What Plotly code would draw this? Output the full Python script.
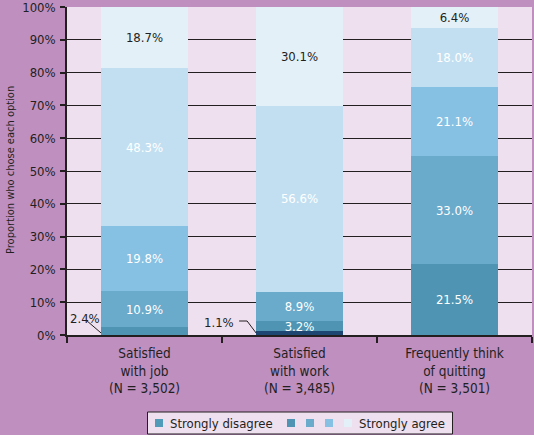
import plotly.graph_objects as go

# ---- data ----
categories = [
    "Satisfied<br>with job<br>(N = 3,502)",
    "Satisfied<br>with work<br>(N = 3,485)",
    "Frequently think<br>of quitting<br>(N = 3,501)",
]
legend_names = ["Strongly disagree", "", "", "", "Strongly agree"]
level1 = [2.4, 1.1, 21.5]
level2 = [10.9, 3.2, 33.0]
level3 = [19.8, 8.9, 21.1]
level4 = [48.3, 56.6, 18.0]
level5 = [18.7, 30.1, 6.4]
y_tick_values = [0, 10, 20, 30, 40, 50, 60, 70, 80, 90, 100]
y_tick_labels = [f"{v}%" for v in y_tick_values]
y_title = "Proportion who chose each option"

# ---- style ----
FONT = "Liberation Sans Narrow, Arial Narrow, DejaVu Sans Condensed, Roboto, sans-serif"
INK = "#231f20"
PAPER = "#bf8fc0"
PLOT_BG = "#eee0ee"
TEAL = "#4f95b3"
MID = "#6aaacb"
ML = "#86c0e2"
LIGHT = "#c2dff1"
LIGHTEST = "#e4f0f8"
NAVY = "#1e4672"
WHITE = "#ffffff"

levels = [level1, level2, level3, level4, level5]
seg_colors = [
    [TEAL, NAVY, TEAL],
    [MID, TEAL, MID],
    [ML, MID, ML],
    [LIGHT, LIGHT, LIGHT],
    [LIGHTEST, LIGHTEST, LIGHTEST],
]
text_colors = [[WHITE] * 3, [WHITE] * 3, [WHITE] * 3, [WHITE] * 3, [INK] * 3]
show_text = [
    [False, False, True],
    [True, True, True],
    [True, True, True],
    [True, True, True],
    [True, True, True],
]
legend_colors = ["#4f9bb8", TEAL, MID, ML, LIGHTEST]

BAR_W = 0.56

fig = go.Figure()
for vals, cols, tcols, shows in zip(levels, seg_colors, text_colors, show_text):
    fig.add_trace(go.Bar(
        x=categories,
        y=vals,
        width=BAR_W,
        marker=dict(color=cols, line=dict(width=0)),
        text=[f"{v:.1f}%" if s else "" for v, s in zip(vals, shows)],
        textposition="inside",
        insidetextanchor="middle",
        textangle=0,
        textfont=dict(family=FONT, size=13, color=tcols),
        showlegend=False,
        hoverinfo="skip",
    ))

# ---- layout geometry helpers (pixel -> paper) ----
L, R, T, B = 67, 2, 7, 100
W, H = 534, 435
PW, PH = W - L - R, H - T - B


def px(x):
    return (x - L) / PW


def py(y):
    return (H - B - y) / PH


shapes = []
annotations = []

# y-axis title
annotations.append(dict(
    x=px(10), y=py(170), xref="paper", yref="paper",
    xanchor="center", yanchor="middle", textangle=-90,
    text=y_title, showarrow=False,
    font=dict(family=FONT, size=11, color=INK),
))

# callout for job, lowest segment
shapes.append(dict(
    type="line", xref="x", yref="y", xsizemode="pixel", ysizemode="pixel",
    xanchor=0 - BAR_W / 2, yanchor=0, x0=-14, y0=14, x1=0, y1=2,
    line=dict(color=INK, width=1),
))
annotations.append(dict(
    x=0 - BAR_W / 2, y=0, xref="x", yref="y", xshift=-16, yshift=17,
    text=f"{level1[0]:.1f}%", showarrow=False,
    font=dict(family=FONT, size=13, color=INK),
))
# callout for work, lowest segment
shapes.append(dict(
    type="path", xref="x", yref="y", xsizemode="pixel", ysizemode="pixel",
    xanchor=1 - BAR_W / 2, yanchor=0, path="M-17,14 L-9,14 L0,2",
    line=dict(color=INK, width=1),
))
annotations.append(dict(
    x=1 - BAR_W / 2, y=0, xref="x", yref="y", xshift=-37, yshift=13,
    text=f"{level1[1]:.1f}%", showarrow=False,
    font=dict(family=FONT, size=13, color=INK),
))

# ---- manual legend ----
shapes.append(dict(
    type="rect", xref="paper", yref="paper",
    x0=px(147.5), x1=px(452.5), y0=py(434), y1=py(412),
    fillcolor=PLOT_BG, line=dict(color=INK, width=1), layer="above",
))
sq_x = [155, 287, 306, 325, 344]
for xs, c in zip(sq_x, legend_colors):
    shapes.append(dict(
        type="rect", xref="paper", yref="paper",
        x0=px(xs), x1=px(xs + 8), y0=py(427), y1=py(419),
        fillcolor=c, line=dict(width=0), layer="above",
    ))
legend_text_x = [168, None, None, None, 357]
for name, tx in zip(legend_names, legend_text_x):
    if name and tx is not None:
        annotations.append(dict(
            x=px(tx), y=py(423), xref="paper", yref="paper",
            xanchor="left", yanchor="middle", text=name, showarrow=False,
            font=dict(family=FONT, size=13, color=INK),
        ))

fig.update_layout(
    width=W, height=H,
    margin=dict(l=L, r=R, t=T, b=B, pad=0, autoexpand=False),
    paper_bgcolor=PAPER,
    plot_bgcolor=PLOT_BG,
    barmode="stack",
    showlegend=False,
    uniformtext=dict(minsize=13, mode="show"),
    font=dict(family=FONT, size=13, color=INK),
    shapes=shapes,
    annotations=annotations,
    xaxis=dict(
        type="category",
        range=[-0.5, 2.5],
        automargin=False,
        showline=True, linecolor=INK, linewidth=1.5,
        ticks="outside", tickson="boundaries", ticklen=6, tickcolor=INK, tickwidth=1.5,
        ticklabelstandoff=5,
        showgrid=False,
        tickfont=dict(family=FONT, size=13.5, color=INK),
    ),
    yaxis=dict(
        range=[0, 100.0001],
        automargin=False,
        ticklabeloverflow="allow",
        tickvals=y_tick_values, ticktext=y_tick_labels,
        showline=True, linecolor=INK, linewidth=1.5,
        ticks="outside", ticklen=5, tickcolor=INK, tickwidth=1.5,
        ticklabelstandoff=2,
        showgrid=True, gridcolor=INK, gridwidth=1.3,
        zeroline=False,
        tickfont=dict(family=FONT, size=13, color=INK),
    ),
)

fig.write_html(
    "out.html",
    config={"displayModeBar": False},
    post_script="document.body.style.margin='0';document.body.style.overflow='hidden';",
)
